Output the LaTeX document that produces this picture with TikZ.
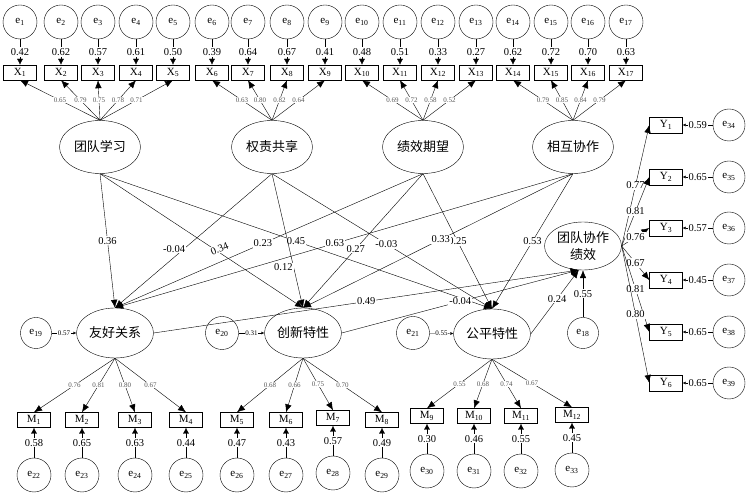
\documentclass[tikz,border=0pt]{standalone}
\usepackage{fontspec}
\setmainfont{Liberation Serif}
\newfontfamily\cjk{Noto Sans CJK SC}
\usetikzlibrary{shapes.geometric,arrows.meta}
\begin{document}
\begin{tikzpicture}[x=1pt,y=-1pt,>={Latex[length=6pt,width=6pt]},
	latent/.style={ellipse,draw,inner sep=0pt,minimum width=81pt,minimum height=53pt,align=center,font=\cjk\fontsize{13}{17}\selectfont},
	obs/.style={rectangle,draw,inner sep=0pt,minimum width=33pt,minimum height=15pt,font=\fontsize{11}{12}\selectfont},
	err/.style={circle,draw,inner sep=0pt,minimum size=33pt,font=\fontsize{11}{12}\selectfont},
	coef/.style={fill=white,inner sep=1pt,font=\fontsize{10.5}{12}\selectfont},
	load/.style={fill=white,inner sep=0.5pt,text=black!65,font=\fontsize{7}{8}\selectfont},
	resid/.style={fill=white,inner sep=0.5pt,font=\fontsize{7}{8}\selectfont},
	path/.style={-{Latex[length=8pt,width=6.5pt]}},
	small/.style={-{Latex[length=3pt,width=3pt]}}]
	\useasboundingbox (0,0) rectangle (748,494);
	\path
	+(100,147) node[latent] (TL) {团队学习}
	+(272,147) node[latent] (QZ) {权责共享}
	+(423,147) node[latent] (JX) {绩效期望}
	+(573,147) node[latent] (XH) {相互协作}
	+(115,333) node[latent,minimum width=77pt,minimum height=50pt] (YH) {友好关系}
	+(303,333) node[latent,minimum width=77pt,minimum height=50pt] (CX) {创新特性}
	+(492,334) node[latent,minimum width=77pt,minimum height=50pt] (GP) {公平特性}
	+(583,246) node[latent,minimum width=77pt,minimum height=48pt] (TD) {团队协作\\绩效}
	+(36,333)  node[err,minimum size=31pt] (e19) {e\textsubscript{19}}
	+(222,333) node[err] (e20) {e\textsubscript{20}}
	+(413,333) node[err] (e21) {e\textsubscript{21}}
	+(583,333) node[err,minimum size=31pt] (e18) {e\textsubscript{18}}
	;
	% X indicators
	\foreach \i/\x/\rv/\ld/\lat in {1/20/0.42/0.65/TL,2/61/0.62/0.79/TL,3/98/0.57/0.75/TL,4/136/0.61/0.78/TL,5/173/0.50/0.71/TL,
		6/212/0.39/0.63/QZ,7/248/0.64/0.80/QZ,8/287/0.67/0.82/QZ,9/325/0.41/0.64/QZ,
		10/362/0.48/0.69/JX,11/400/0.51/0.72/JX,12/438/0.33/0.58/JX,13/476/0.27/0.52/JX,
		14/513/0.62/0.79/XH,15/551/0.72/0.85/XH,16/588/0.70/0.84/XH,17/626/0.63/0.79/XH}{
		\node[obs] (X\i) at (\x,72.5) {X\textsubscript{\i}};
		\node[err,minimum size=34pt] (e\i) at (\x,22) {e\textsubscript{\i}};
		\draw[->] (e\i) -- (X\i) node[midway,coef] {\rv};
		\draw[path] (\lat.north) -- (X\i.south) node[midway,load] {\ld};
	}
	% M indicators
	\foreach \i/\x/\y/\rv/\ld/\lat in {1/34/420/0.58/0.76/YH,2/82/420/0.65/0.81/YH,3/135/420/0.63/0.80/YH,4/186/420/0.44/0.67/YH,
		5/237/420/0.47/0.68/CX,6/286/420/0.43/0.66/CX,7/333/418/0.57/0.75/CX,8/382/420/0.49/0.70/CX,
		9/427/416/0.30/0.55/GP,10/474/416/0.46/0.68/GP,11/521/416/0.55/0.74/GP,12/572/415/0.45/0.67/GP}{
		\pgfmathtruncatemacro{\k}{\i+21}
		\node[obs] (M\i) at (\x,\y) {M\textsubscript{\i}};
		\node[err,minimum size=34pt] (e\k) at (\x,\y+55) {e\textsubscript{\k}};
		\draw[->] (e\k) -- (M\i) node[midway,coef] {\rv};
		\draw[path] (\lat.south) -- (M\i.north) node[midway,load] {\ld};
	}
	% Y indicators
	\foreach \i/\y/\rv/\ld in {1/125/0.59/0.77,2/177/0.65/0.81,3/228/0.57/0.76,4/280/0.45/0.67,5/332/0.65/0.81,6/383/0.65/0.80}{
		\pgfmathtruncatemacro{\k}{\i+33}
		\node[obs,minimum height=16pt] (Y\i) at (666,\y) {Y\textsubscript{\i}};
		\node[err,minimum size=32pt] (e\k) at (729,\y) {e\textsubscript{\k}};
		\draw[small] (e\k) -- (Y\i) node[midway,coef] {\rv};
		\draw[path] (TD.east) -- (Y\i.west) node[pos=.5,coef] {\ld};
	}
	% structural paths
	\draw[path] (TL.south) -- (YH.north) node[pos=.5,coef] {0.36};
	\draw[path] (TL.south) -- (CX.north) node[pos=.6,coef,rotate=22,yshift=6pt] {0.34};
	\draw[path] (TL.south) -- (GP.north) node[pos=.5,coef] {0.45};
	\draw[path] (QZ.south) -- (YH.north) node[pos=.56,coef,xshift=-10pt] {-0.04};
	\draw[path] (QZ.south) -- (CX.north) node[pos=.7,coef,anchor=east] {0.12};
	\draw[path] (QZ.south) -- (GP.north) node[pos=.52,coef] {-0.03};
	\draw[path] (JX.south) -- (YH.north) node[pos=.52,coef] {0.23};
	\draw[path] (JX.south) -- (CX.north) node[pos=.56,coef] {0.27};
	\draw[path] (JX.south) -- (GP.north) node[pos=.5,coef] {0.25};
	\draw[path] (XH.south) -- (YH.north) node[pos=.52,coef] {0.63};
	\draw[path] (XH.south) -- (CX.north) node[pos=.49,coef] {0.33};
	\draw[path] (XH.south) -- (GP.north) node[pos=.5,coef] {0.53};
	\draw[path] (YH.east) -- (TD.260) node[pos=.5,coef] {0.49};
	\draw[path] (CX.east) -- (TD.260) node[pos=.5,coef] {-0.04};
	\draw[path] (GP.east) -- (TD.260) node[pos=.55,coef] {0.24};
	\draw[path] (e18) -- (TD.south) node[pos=.5,coef] {0.55};
	\draw[small] (e19) -- (YH) node[midway,resid] {0.57};
	\draw[small] (e20) -- (CX) node[midway,resid] {0.31};
	\draw[small] (e21) -- (GP) node[midway,resid] {0.55};
\end{tikzpicture}
\end{document}
